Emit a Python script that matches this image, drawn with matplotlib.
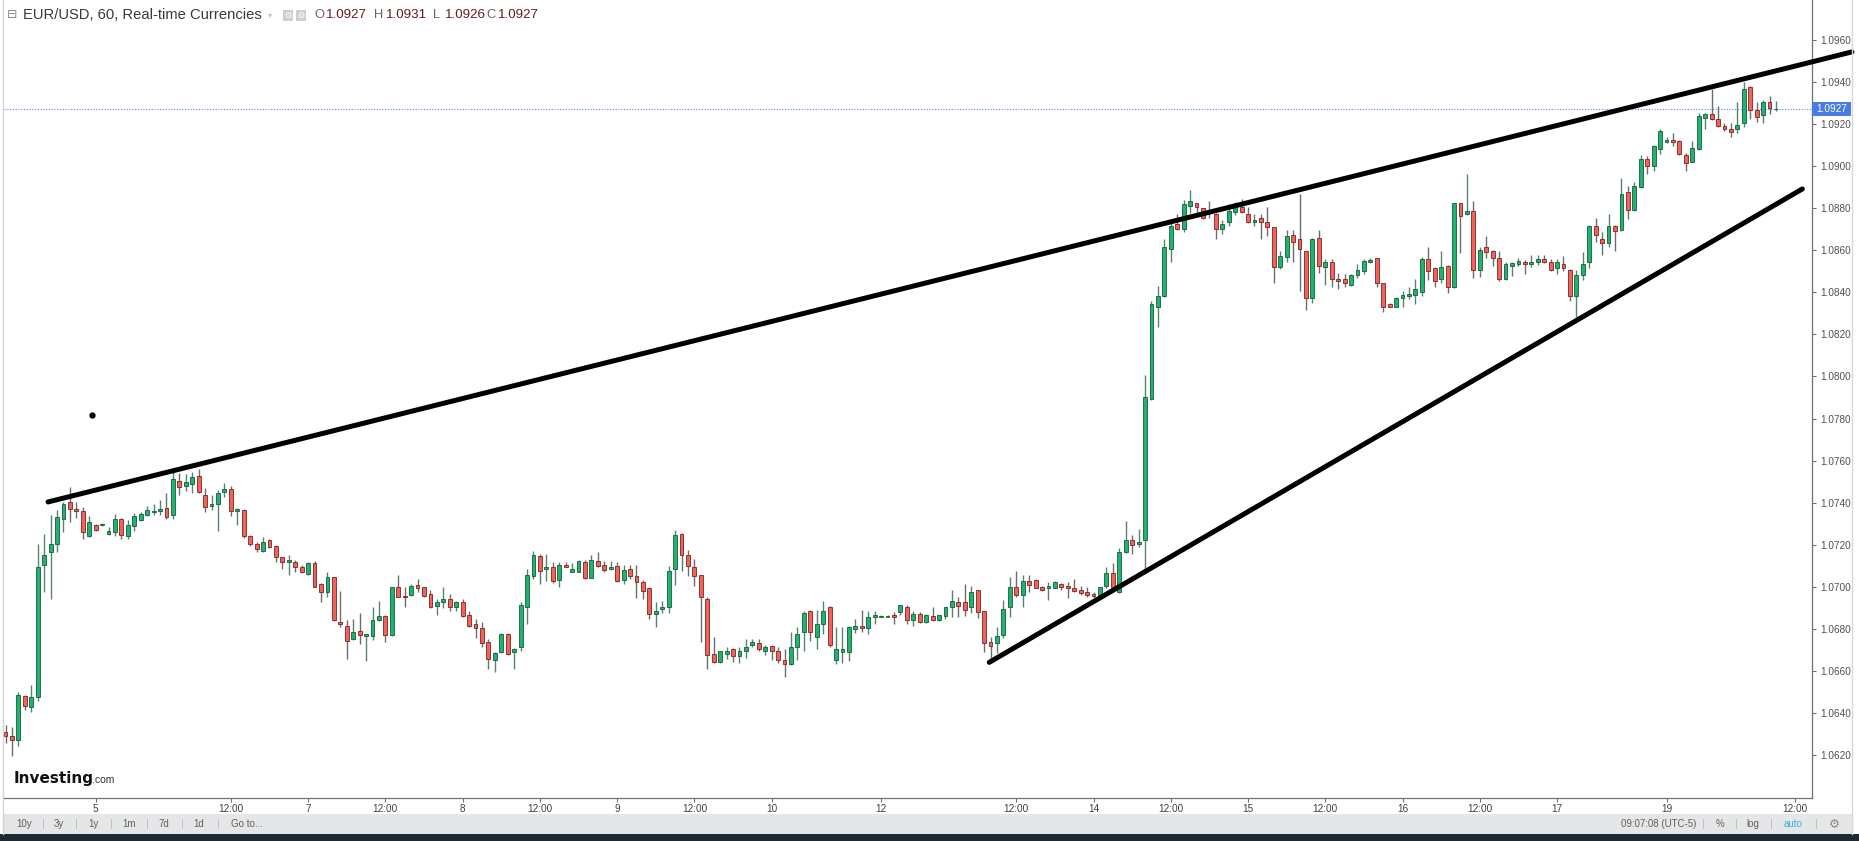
import matplotlib.pyplot as plt
import numpy as np
from matplotlib.patches import Rectangle
from matplotlib.lines import Line2D
from matplotlib.transforms import blended_transform_factory

W, H = 1859, 841

# hourly EUR/USD candles, bar index 0 = first bar of day "5"
first_bar = -14
opens = [
    1.06312, 1.06293, 1.06273, 1.06483, 1.06431, 1.06476, 1.07104, 1.07164, 1.07202, 1.07321,
    1.07402, 1.07372, 1.07361, 1.07244, 1.07293, 1.07294, 1.07251, 1.07263, 1.07323, 1.07244,
    1.07291, 1.07318, 1.07342, 1.07354, 1.07362, 1.07373, 1.07342, 1.07504, 1.07481, 1.07489,
    1.07527, 1.07437, 1.07385, 1.07392, 1.07453, 1.07465, 1.07362, 1.07365, 1.07244, 1.07202,
    1.07172, 1.07223, 1.07195, 1.07141, 1.07117, 1.07117, 1.07093, 1.07060, 1.07115, 1.07012,
    1.06974, 1.07046, 1.06835, 1.06814, 1.06751, 1.06792, 1.06767, 1.06767, 1.06843, 1.06864,
    1.06772, 1.06998, 1.06957, 1.06962, 1.07008, 1.06998, 1.06965, 1.06911, 1.06927, 1.06943,
    1.06903, 1.06927, 1.06867, 1.06824, 1.06806, 1.06737, 1.06653, 1.06690, 1.06778, 1.06690,
    1.06716, 1.06903, 1.07053, 1.07145, 1.07084, 1.07096, 1.07033, 1.07104, 1.07073, 1.07073,
    1.07119, 1.07044, 1.07125, 1.07103, 1.07084, 1.07100, 1.07033, 1.07084, 1.07054, 1.07025,
    1.06997, 1.06872, 1.06894, 1.06903, 1.07084, 1.07250, 1.07153, 1.07096, 1.07055, 1.06943,
    1.06683, 1.06645, 1.06683, 1.06704, 1.06674, 1.06694, 1.06723, 1.06735, 1.06694, 1.06721,
    1.06694, 1.06653, 1.06632, 1.06716, 1.06784, 1.06886, 1.06764, 1.06822, 1.06906, 1.06653,
    1.06692, 1.06692, 1.06799, 1.06814, 1.06806, 1.06857, 1.06859, 1.06859, 1.06865, 1.06883,
    1.06905, 1.06843, 1.06873, 1.06835, 1.06864, 1.06843, 1.06864, 1.06903, 1.06927, 1.06927,
    1.06903, 1.06985, 1.06884, 1.06737, 1.06735, 1.06772, 1.06903, 1.06998, 1.06962, 1.07027,
    1.07033, 1.07001, 1.06997, 1.06997, 1.07012, 1.07004, 1.06997, 1.06985, 1.06974, 1.06965,
    1.06962, 1.07004, 1.07068, 1.06975, 1.07165, 1.07223, 1.07203, 1.07223, 1.07891, 1.08332,
    1.08382, 1.08604, 1.08724, 1.08701, 1.08811, 1.08823, 1.08799, 1.08775, 1.08770, 1.08701,
    1.08732, 1.08783, 1.08804, 1.08772, 1.08736, 1.08751, 1.08736, 1.08709, 1.08522, 1.08569,
    1.08672, 1.08652, 1.08596, 1.08371, 1.08656, 1.08522, 1.08546, 1.08463, 1.08463, 1.08435,
    1.08482, 1.08503, 1.08546, 1.08561, 1.08443, 1.08343, 1.08332, 1.08371, 1.08384, 1.08387,
    1.08403, 1.08557, 1.08514, 1.08462, 1.08525, 1.08427, 1.08823, 1.08770, 1.08786, 1.08506,
    1.08614, 1.08598, 1.08561, 1.08462, 1.08525, 1.08533, 1.08546, 1.08533, 1.08546, 1.08558,
    1.08546, 1.08514, 1.08534, 1.08506, 1.08384, 1.08482, 1.08546, 1.08715, 1.08653, 1.08633,
    1.08715, 1.08696, 1.08875, 1.08791, 1.08902, 1.09033, 1.09002, 1.09081, 1.09116, 1.09124,
    1.09119, 1.09052, 1.09021, 1.09081, 1.09226, 1.09245, 1.09222, 1.09192, 1.09174, 1.09174,
    1.09203, 1.09377, 1.09266, 1.09242, 1.09306, 1.09270,
]
highs = [
    1.06344, 1.06336, 1.06499, 1.06487, 1.06534, 1.07204, 1.07251, 1.07342, 1.07366, 1.07405,
    1.07477, 1.07405, 1.07381, 1.07337, 1.07299, 1.07302, 1.07283, 1.07346, 1.07326, 1.07318,
    1.07350, 1.07358, 1.07385, 1.07394, 1.07413, 1.07445, 1.07556, 1.07540, 1.07537, 1.07548,
    1.07559, 1.07468, 1.07437, 1.07461, 1.07495, 1.07480, 1.07373, 1.07370, 1.07247, 1.07215,
    1.07236, 1.07226, 1.07199, 1.07144, 1.07152, 1.07128, 1.07104, 1.07120, 1.07123, 1.07017,
    1.07073, 1.07049, 1.06981, 1.06843, 1.06846, 1.06875, 1.06776, 1.06906, 1.06935, 1.06867,
    1.07001, 1.07057, 1.06998, 1.07014, 1.07036, 1.07001, 1.06985, 1.06943, 1.06998, 1.06967,
    1.06935, 1.06943, 1.06887, 1.06846, 1.06835, 1.06751, 1.06691, 1.06783, 1.06780, 1.06708,
    1.06930, 1.07084, 1.07172, 1.07156, 1.07156, 1.07120, 1.07120, 1.07117, 1.07115, 1.07128,
    1.07128, 1.07152, 1.07168, 1.07125, 1.07125, 1.07120, 1.07104, 1.07104, 1.07104, 1.07033,
    1.07001, 1.06927, 1.06935, 1.07100, 1.07270, 1.07258, 1.07175, 1.07133, 1.07057, 1.06954,
    1.06764, 1.06697, 1.06716, 1.06708, 1.06716, 1.06753, 1.06753, 1.06751, 1.06724, 1.06724,
    1.06716, 1.06704, 1.06788, 1.06808, 1.06886, 1.06890, 1.06890, 1.06935, 1.06909, 1.06808,
    1.06808, 1.06816, 1.06846, 1.06890, 1.06886, 1.06886, 1.06865, 1.06865, 1.06880, 1.06914,
    1.06913, 1.06884, 1.06883, 1.06871, 1.06906, 1.06868, 1.06906, 1.06985, 1.06951, 1.07014,
    1.07004, 1.06985, 1.06887, 1.06764, 1.06808, 1.06938, 1.07046, 1.07077, 1.07057, 1.07057,
    1.07036, 1.07004, 1.07025, 1.07028, 1.07017, 1.07025, 1.07036, 1.07004, 1.07001, 1.06978,
    1.07001, 1.07093, 1.07115, 1.07184, 1.07315, 1.07247, 1.07274, 1.08007, 1.08360, 1.08430,
    1.08652, 1.08743, 1.08772, 1.08838, 1.08886, 1.08826, 1.08802, 1.08836, 1.08775, 1.08743,
    1.08820, 1.08831, 1.08842, 1.08807, 1.08772, 1.08772, 1.08807, 1.08712, 1.08598, 1.08696,
    1.08696, 1.08867, 1.08598, 1.08656, 1.08696, 1.08557, 1.08557, 1.08490, 1.08485, 1.08485,
    1.08533, 1.08557, 1.08561, 1.08565, 1.08446, 1.08348, 1.08376, 1.08408, 1.08424, 1.08463,
    1.08566, 1.08617, 1.08522, 1.08596, 1.08530, 1.08826, 1.08826, 1.08962, 1.08835, 1.08617,
    1.08667, 1.08601, 1.08598, 1.08546, 1.08542, 1.08561, 1.08553, 1.08577, 1.08577, 1.08577,
    1.08558, 1.08558, 1.08574, 1.08509, 1.08506, 1.08593, 1.08720, 1.08751, 1.08685, 1.08772,
    1.08720, 1.08945, 1.08905, 1.08926, 1.09052, 1.09048, 1.09100, 1.09174, 1.09140, 1.09155,
    1.09124, 1.09063, 1.09119, 1.09250, 1.09250, 1.09364, 1.09287, 1.09203, 1.09206, 1.09306,
    1.09401, 1.09380, 1.09306, 1.09314, 1.09333, 1.09310,
]
lows = [
    1.06257, 1.06197, 1.06246, 1.06415, 1.06407, 1.06460, 1.06978, 1.06941, 1.07168, 1.07263,
    1.07307, 1.07326, 1.07226, 1.07239, 1.07267, 1.07291, 1.07247, 1.07242, 1.07226, 1.07226,
    1.07267, 1.07313, 1.07339, 1.07342, 1.07342, 1.07323, 1.07323, 1.07437, 1.07457, 1.07445,
    1.07445, 1.07358, 1.07366, 1.07267, 1.07429, 1.07339, 1.07294, 1.07231, 1.07196, 1.07168,
    1.07168, 1.07183, 1.07120, 1.07084, 1.07057, 1.07073, 1.07065, 1.07057, 1.06998, 1.06930,
    1.06954, 1.06840, 1.06808, 1.06658, 1.06748, 1.06729, 1.06650, 1.06748, 1.06840, 1.06740,
    1.06769, 1.06951, 1.06903, 1.06959, 1.06978, 1.06954, 1.06902, 1.06867, 1.06898, 1.06887,
    1.06887, 1.06859, 1.06811, 1.06756, 1.06716, 1.06609, 1.06598, 1.06688, 1.06677, 1.06609,
    1.06697, 1.06824, 1.07036, 1.07014, 1.07028, 1.07017, 1.06998, 1.07093, 1.07069, 1.07069,
    1.07039, 1.07041, 1.07096, 1.07073, 1.07080, 1.07025, 1.07014, 1.07038, 1.06946, 1.06943,
    1.06846, 1.06808, 1.06875, 1.06875, 1.07011, 1.07077, 1.07054, 1.07004, 1.06737, 1.06609,
    1.06637, 1.06637, 1.06656, 1.06645, 1.06637, 1.06661, 1.06716, 1.06697, 1.06677, 1.06653,
    1.06640, 1.06574, 1.06629, 1.06653, 1.06697, 1.06745, 1.06707, 1.06776, 1.06713, 1.06632,
    1.06637, 1.06648, 1.06780, 1.06788, 1.06775, 1.06824, 1.06858, 1.06858, 1.06824, 1.06867,
    1.06824, 1.06816, 1.06827, 1.06827, 1.06840, 1.06840, 1.06846, 1.06859, 1.06859, 1.06862,
    1.06875, 1.06851, 1.06692, 1.06661, 1.06685, 1.06756, 1.06859, 1.06954, 1.06906, 1.06978,
    1.06993, 1.06982, 1.06938, 1.06993, 1.06985, 1.06946, 1.06978, 1.06962, 1.06951, 1.06946,
    1.06957, 1.06993, 1.06993, 1.06970, 1.07160, 1.07155, 1.07192, 1.07081, 1.07888, 1.08237,
    1.08376, 1.08546, 1.08696, 1.08688, 1.08775, 1.08775, 1.08748, 1.08755, 1.08653, 1.08677,
    1.08717, 1.08767, 1.08775, 1.08728, 1.08717, 1.08653, 1.08669, 1.08443, 1.08509, 1.08546,
    1.08546, 1.08408, 1.08316, 1.08348, 1.08490, 1.08435, 1.08427, 1.08416, 1.08424, 1.08432,
    1.08466, 1.08485, 1.08541, 1.08427, 1.08308, 1.08329, 1.08329, 1.08332, 1.08367, 1.08345,
    1.08384, 1.08458, 1.08427, 1.08443, 1.08395, 1.08419, 1.08585, 1.08767, 1.08466, 1.08471,
    1.08561, 1.08527, 1.08455, 1.08458, 1.08479, 1.08527, 1.08485, 1.08522, 1.08530, 1.08541,
    1.08503, 1.08487, 1.08503, 1.08360, 1.08284, 1.08458, 1.08514, 1.08640, 1.08577, 1.08617,
    1.08598, 1.08693, 1.08747, 1.08788, 1.08894, 1.08960, 1.08978, 1.09055, 1.09111, 1.09095,
    1.09052, 1.08978, 1.09017, 1.09076, 1.09176, 1.09219, 1.09187, 1.09168, 1.09136, 1.09155,
    1.09187, 1.09222, 1.09211, 1.09206, 1.09245, 1.09260,
]
closes = [
    1.06293, 1.06273, 1.06487, 1.06434, 1.06476, 1.07096, 1.07152, 1.07202, 1.07331, 1.07392,
    1.07370, 1.07362, 1.07263, 1.07307, 1.07270, 1.07299, 1.07266, 1.07323, 1.07247, 1.07294,
    1.07337, 1.07345, 1.07366, 1.07361, 1.07372, 1.07334, 1.07512, 1.07474, 1.07497, 1.07521,
    1.07453, 1.07381, 1.07394, 1.07445, 1.07464, 1.07362, 1.07372, 1.07244, 1.07202, 1.07180,
    1.07215, 1.07188, 1.07144, 1.07117, 1.07126, 1.07093, 1.07073, 1.07115, 1.07001, 1.06974,
    1.07046, 1.06843, 1.06822, 1.06745, 1.06784, 1.06770, 1.06775, 1.06843, 1.06864, 1.06772,
    1.06998, 1.06954, 1.06951, 1.07004, 1.06997, 1.06959, 1.06903, 1.06927, 1.06943, 1.06906,
    1.06927, 1.06864, 1.06814, 1.06806, 1.06735, 1.06656, 1.06685, 1.06775, 1.06681, 1.06704,
    1.06914, 1.07055, 1.07150, 1.07077, 1.07096, 1.07030, 1.07103, 1.07093, 1.07084, 1.07125,
    1.07044, 1.07128, 1.07101, 1.07080, 1.07093, 1.07028, 1.07080, 1.07054, 1.07022, 1.06982,
    1.06872, 1.06886, 1.06906, 1.07076, 1.07247, 1.07152, 1.07101, 1.07054, 1.06951, 1.06677,
    1.06645, 1.06694, 1.06694, 1.06674, 1.06694, 1.06716, 1.06738, 1.06704, 1.06716, 1.06694,
    1.06653, 1.06632, 1.06716, 1.06775, 1.06875, 1.06784, 1.06824, 1.06886, 1.06723, 1.06704,
    1.06704, 1.06810, 1.06816, 1.06806, 1.06857, 1.06865, 1.06864, 1.06864, 1.06856, 1.06913,
    1.06843, 1.06872, 1.06835, 1.06865, 1.06843, 1.06867, 1.06905, 1.06935, 1.06911, 1.06892,
    1.06976, 1.06883, 1.06735, 1.06721, 1.06767, 1.06894, 1.07001, 1.06962, 1.07027, 1.07011,
    1.06997, 1.06984, 1.07004, 1.07025, 1.07001, 1.06997, 1.06982, 1.06970, 1.06962, 1.06957,
    1.06998, 1.07068, 1.06998, 1.07165, 1.07223, 1.07200, 1.07215, 1.07901, 1.08343, 1.08384,
    1.08614, 1.08717, 1.08701, 1.08818, 1.08834, 1.08804, 1.08751, 1.08783, 1.08701, 1.08724,
    1.08786, 1.08820, 1.08783, 1.08732, 1.08743, 1.08732, 1.08712, 1.08522, 1.08574, 1.08668,
    1.08641, 1.08606, 1.08371, 1.08652, 1.08527, 1.08546, 1.08462, 1.08454, 1.08443, 1.08482,
    1.08506, 1.08550, 1.08553, 1.08443, 1.08332, 1.08332, 1.08371, 1.08387, 1.08392, 1.08416,
    1.08558, 1.08503, 1.08454, 1.08522, 1.08424, 1.08823, 1.08764, 1.08786, 1.08506, 1.08601,
    1.08593, 1.08561, 1.08462, 1.08533, 1.08538, 1.08549, 1.08533, 1.08546, 1.08558, 1.08546,
    1.08506, 1.08546, 1.08514, 1.08384, 1.08482, 1.08534, 1.08715, 1.08672, 1.08633, 1.08715,
    1.08693, 1.08865, 1.08791, 1.08905, 1.09032, 1.09002, 1.09095, 1.09166, 1.09124, 1.09116,
    1.09057, 1.09013, 1.09084, 1.09238, 1.09245, 1.09222, 1.09192, 1.09174, 1.09163, 1.09195,
    1.09364, 1.09266, 1.09234, 1.09306, 1.09274, 1.09270,
]

day_ticks = [0, 21, 33, 45, 57, 69, 81, 93, 105, 122, 143, 155, 167, 179, 191, 203, 215, 227, 244, 264]
day_labels = ["5", "12:00", "7", "12:00", "8", "12:00", "9", "12:00", "10", "12",
              "12:00", "14", "12:00", "15", "12:00", "16", "12:00", "17", "19", "12:00"]
price_ticks = [1.0620, 1.0640, 1.0660, 1.0680, 1.0700, 1.0720, 1.0740, 1.0760, 1.0780,
               1.0800, 1.0820, 1.0840, 1.0860, 1.0880, 1.0900, 1.0920, 1.0940, 1.0960]
last_price = 1.0927
ohlc_header = [("O", "1.0927"), ("H", "1.0931"), ("L", "1.0926"), ("C", "1.0927")]
upper_trend = ([-7.4, 272.8], [1.07404, 1.09542])
lower_trend = ([138.8, 265.1], [1.06642, 1.08891])
dot = (-0.5, 1.07817)

plt.rcParams['font.family'] = ['Liberation Sans', 'DejaVu Sans']

fig = plt.figure(figsize=(W / 100, H / 100), dpi=100)
fig.patch.set_facecolor('white')


def fx(px):
    return px / W


def fy(py):
    return 1 - py / H


ax = fig.add_axes([fx(4), fy(798), (1812 - 4) / W, 798 / H])
ax.set_xlim(-14.24, 266.6)
ax.set_ylim(1.059976, 1.097886)
ax.set_facecolor('white')

for s in ('top', 'left'):
    ax.spines[s].set_visible(False)
for s in ('right', 'bottom'):
    ax.spines[s].set_color('#707070')
    ax.spines[s].set_linewidth(0.9)

ax.yaxis.tick_right()
ax.set_yticks(price_ticks, [f"{p:.4f}" for p in price_ticks])
ax.tick_params(axis='y', length=3, width=0.8, color='#707070', labelsize=7.2,
               labelcolor='#505050', pad=3)
ax.set_xticks(day_ticks, day_labels)
ax.tick_params(axis='x', length=3, width=0.8, color='#707070', labelsize=7.2,
               labelcolor='#404040', pad=1.5)

# candles
idx = np.arange(first_bar, first_bar + len(opens))
o, h, l, c = (np.array(a) for a in (opens, highs, lows, closes))
up = c >= o
body_low = np.minimum(o, c)
body_h = np.maximum(np.abs(c - o), 0.000025)
wick_cols = ['#5a8270' if u else '#66706a' for u in up]
fill_cols = ['#1db46e' if u else '#f0625a' for u in up]
edge_cols = ['#1a5a3b' if u else '#7a2420' for u in up]
ax.vlines(idx, l, h, colors=wick_cols, lw=1.0, zorder=2)
ax.bar(idx, body_h, bottom=body_low, width=0.6, color=fill_cols,
       edgecolor=edge_cols, linewidth=0.6, zorder=3)

# last price line and label
ax.axhline(last_price, color='#5a8ae6', lw=0.8, ls=(0, (1, 1.5)), zorder=1)
tr = blended_transform_factory(ax.transAxes, ax.transData)
ax.add_patch(Rectangle((1.0, last_price - 0.00033), 39 / 1808, 0.00066, transform=tr,
                       facecolor='#4a7be0', edgecolor='none', clip_on=False, zorder=5))
ax.text(1.0 + 19.5 / 1808, last_price, f"{last_price:.4f}", transform=tr, ha='center',
        va='center', fontsize=7.2, color='white', clip_on=False, zorder=6)

# drawn trend lines
ax.plot(*upper_trend, color='black', lw=3.6, solid_capstyle='round', clip_on=False, zorder=4)
ax.plot(*lower_trend, color='black', lw=3.6, solid_capstyle='round', zorder=4)
ax.plot(*dot, 'o', color='black', ms=3.5, zorder=4)

# frame lines and toolbar
fig.add_artist(Line2D([fx(3), fx(3)], [fy(0), fy(834)], color='#d3d3d3', lw=1))
fig.add_artist(Line2D([fx(1852), fx(1852)], [fy(0), fy(834)], color='#d8d8d8', lw=1))
fig.add_artist(Rectangle((fx(3), fy(834)), fx(1852) - fx(3), 20 / H, facecolor='#e5e6e8',
                         edgecolor='none', transform=fig.transFigure))
fig.add_artist(Rectangle((0, 0), 1, 7 / H, facecolor='#1d2833', edgecolor='none',
                         transform=fig.transFigure))

bar_y = fy(824)
for x, t in [(24, "10y"), (59, "3y"), (93, "1y"), (129, "1m"), (164, "7d"), (199, "1d"), (247, "Go to...")]:
    fig.text(fx(x), bar_y, t, ha='center', va='center', fontsize=7, color='#606060')
for x in [43, 76, 111, 147, 182, 218]:
    fig.text(fx(x), bar_y, "|", ha='center', va='center', fontsize=8, color='#bcbcbc')
for x, t, col in [(1659, "09:07:08 (UTC-5)", '#606060'), (1720, "%", '#606060'),
                  (1753, "log", '#606060'), (1793, "auto", '#3aaee0')]:
    fig.text(fx(x), bar_y, t, ha='center', va='center', fontsize=7, color=col)
for x in [1703, 1736, 1771, 1816]:
    fig.text(fx(x), bar_y, "|", ha='center', va='center', fontsize=8, color='#bcbcbc')
fig.text(fx(1834), bar_y, "\u2699", ha='center', va='center', fontsize=9, color='#8a8a8a',
         family='DejaVu Sans')

# header
hy = fy(15)
fig.text(fx(7), hy, "\u229f", ha='left', va='center', fontsize=9, color='#8a8a8a',
         family='DejaVu Sans')
fig.text(fx(23), hy, "EUR/USD, 60, Real-time Currencies", ha='left', va='center',
         fontsize=10.6, color='#3a3a3a')
fig.text(fx(270), hy, "\u25be", ha='center', va='center', fontsize=6, color='#c0c0c0',
         family='DejaVu Sans')
for x in (283, 296):
    fig.add_artist(Rectangle((fx(x), fy(21)), 10 / W, 11 / H, facecolor='#cfcfcf',
                             edgecolor='none', transform=fig.transFigure))
    fig.text(fx(x + 5), fy(15.5), "\u2699", ha='center', va='center', fontsize=6,
             color='white', family='DejaVu Sans')
for x, (letter, val) in zip((314, 374, 433, 486), ohlc_header):
    fig.text(fx(x), hy, letter, ha='left', va='center', fontsize=9.3, color='#666666')
    fig.text(fx(x + 11.5), hy, val, ha='left', va='center', fontsize=9.6, color='#6a1b1b')

# logo
fig.text(fx(14), fy(783), "Investing", ha='left', va='baseline', fontsize=11,
         fontweight='bold', color='#111111', family='DejaVu Sans')
fig.text(fx(92), fy(783), ".com", ha='left', va='baseline', fontsize=7.5, color='#333333')

fig.savefig("out.png", dpi=100, facecolor='white')
